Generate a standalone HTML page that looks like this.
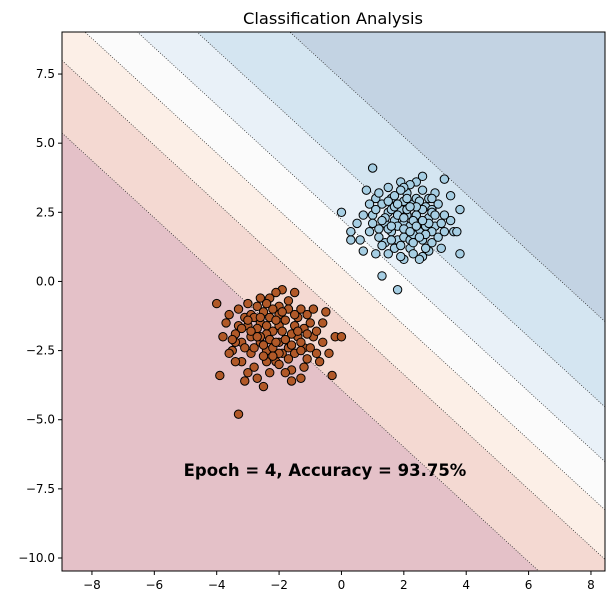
<!DOCTYPE html>
<html><head><meta charset="utf-8"><style>
body{margin:0;background:#fff;}
svg{display:block;font-family:"DejaVu Sans","Liberation Sans",sans-serif;}
</style></head><body>
<svg id="chart" width="614" height="605">
</svg>
<script>
const levels = [-3.78, -1.25, 0.48, 2.16, 4.07, 7.05];
const bandColors = ["#e4c1c8","#f4d9d2","#fcefe7","#fbfbfb","#e9f1f8","#d4e5f1","#c3d3e3"];
const slopeK = 0.965;
const xTicks = [-8,-6,-4,-2,0,2,4,6,8];
const yTicks = [7.5,5.0,2.5,0.0,-2.5,-5.0,-7.5,-10.0];
const blueX = [2.0,1.5,2.5,1.8,2.3,1.2,2.8,2.1,1.6,2.6,3.0,1.0,1.4,2.2,2.9,3.3,0.8,1.1,1.9,2.4,2.7,1.7,2.4,2.0,1.3,3.1,3.5,0.6,0.9,1.5,2.0,2.6,3.2,3.6,2.8,2.2,1.9,1.6,2.5,2.0,1.0,1.3,1.8,3.8,0.0,3.3,3.8,3.7,0.3,0.3,0.7,1.1,0.5,0.9,1.2,1.5,2.2,2.6,3.0,2.9,3.3,2.6,2.3,1.7,1.4,2.1,2.7,1.8,2.2,2.4,1.6,2.0,3.5,0.7,1.9,2.8,2.5,3.1,1.2,1.0,2.9,2.0,1.5,2.3,1.7,2.6,1.3,
  1.8,2.3,2.1,2.7,1.4,1.6,2.5,2.9,2.2,1.9,2.4,1.1,3.0,2.7,1.7,2.0,2.3,1.5,2.8,2.1,1.3,2.6,1.9,3.2,2.4,1.6,2.2,2.9,1.8,2.5];
const blueY = [2.1,2.5,1.8,1.5,2.8,1.9,2.3,3.2,3.0,3.3,2.0,2.4,1.4,1.2,1.4,1.8,3.3,3.0,3.6,3.6,2.7,2.2,2.4,1.6,2.8,2.8,2.2,1.5,1.8,1.0,0.8,0.9,1.2,1.8,3.0,2.0,2.6,1.8,2.1,2.9,4.1,0.2,-0.3,1.0,2.5,3.7,2.6,1.8,1.5,1.8,1.1,1.0,2.1,2.8,3.2,3.4,3.5,3.8,3.2,2.6,2.4,1.5,1.0,1.2,2.1,2.4,2.0,2.0,1.5,3.0,2.6,3.4,3.1,2.4,0.9,1.1,0.8,1.6,1.6,2.1,1.8,1.9,2.9,2.2,3.1,2.6,1.3,
  2.4,1.7,2.6,1.2,2.3,1.5,2.9,2.5,1.8,3.3,2.0,2.6,2.4,1.7,2.7,2.3,1.4,1.9,2.1,3.0,2.2,2.2,1.3,2.1,2.7,2.0,2.7,3.0,2.8,1.6];
const brownX = [-2.2,-2.6,-1.8,-2.0,-2.9,-1.5,-2.4,-3.1,-1.2,-2.7,-1.7,-3.4,-3.5,-1.0,-0.8,-2.1,-2.8,-1.6,-1.3,-2.3,-1.9,-2.1,-1.5,-2.5,-3.0,-3.3,-3.7,-3.8,-3.6,-3.2,-2.6,-2.0,-1.4,-0.9,-0.6,-0.5,-0.7,-1.1,-1.5,-1.9,-2.4,-2.9,-3.2,-3.0,-2.3,-1.8,-1.3,-0.4,-0.2,0.0,-4.0,-3.3,-3.9,-0.3,-2.5,-3.1,-1.6,-1.2,-2.7,-2.0,-1.8,-2.4,-2.7,-1.6,-1.2,-2.8,-2.2,-1.7,-1.3,-3.3,-3.4,-2.9,-2.3,-1.7,-1.1,-2.0,-2.6,-3.0,-1.4,-0.9,-0.6,-2.5,-3.4,-2.0,-1.0,-3.6,-2.2,-1.9,-2.6,
  -2.3,-1.6,-2.8,-2.1,-1.4,-2.5,-3.1,-1.9,-2.6,-1.1,-2.4,-3.2,-1.7,-2.0,-2.9,-1.5,-2.2,-3.5,-1.8,-2.7,-0.8,-2.4,-3.0,-1.3,-2.1];
const brownY = [-1.8,-1.5,-2.1,-1.2,-2.0,-1.6,-2.5,-1.3,-2.4,-0.9,-0.7,-1.9,-2.5,-1.5,-2.6,-2.9,-3.1,-3.2,-1.0,-0.6,-0.3,-0.4,-0.4,-1.1,-1.6,-1.0,-1.5,-2.0,-2.6,-2.2,-2.2,-2.2,-2.0,-2.0,-1.5,-1.1,-2.9,-2.8,-2.6,-2.6,-2.9,-2.6,-2.9,-3.3,-3.3,-3.3,-3.5,-2.6,-2.0,-2.0,-0.8,-4.8,-3.4,-3.4,-3.8,-3.6,-3.6,-3.1,-3.5,-1.6,-1.4,-1.9,-1.7,-1.9,-1.7,-2.4,-2.4,-2.4,-2.2,-1.6,-2.2,-1.2,-1.3,-1.0,-1.2,-0.9,-0.6,-0.8,-1.3,-1.0,-2.2,-2.7,-2.9,-3.0,-2.4,-1.2,-1.0,-1.8,-2.0,
  -2.1,-2.3,-1.3,-1.4,-1.8,-2.3,-2.4,-1.1,-1.3,-1.9,-1.6,-1.7,-2.8,-2.6,-1.8,-1.2,-2.7,-2.1,-2.1,-2.0,-1.8,-0.8,-1.4,-2.5,-2.2];

const NS="http://www.w3.org/2000/svg";
const svg=document.getElementById('chart');
const L=62,R=605,T=32,B=571;
const xmin=-8.96,xmax=8.45,ymin=-10.47,ymax=9.02;
const xs=v=>L+(v-xmin)/(xmax-xmin)*(R-L);
const ys=v=>B-(v-ymin)/(ymax-ymin)*(B-T);
function mk(tag,attrs,parent){const e=document.createElementNS(NS,tag);for(const k in attrs)e.setAttribute(k,attrs[k]);(parent||svg).appendChild(e);return e;}
const f=(p)=>p[0]+slopeK*p[1];
function clip(poly,level,keepAbove){
  const out=[];const inside=p=>keepAbove?f(p)>=level:f(p)<=level;
  for(let i=0;i<poly.length;i++){const a=poly[i],b=poly[(i+1)%poly.length];
    const ia=inside(a),ib=inside(b);
    if(ia)out.push(a);
    if(ia!==ib){const t=(level-f(a))/(f(b)-f(a));out.push([a[0]+t*(b[0]-a[0]),a[1]+t*(b[1]-a[1])]);}
  }return out;}
const rect=[[xmin,ymin],[xmax,ymin],[xmax,ymax],[xmin,ymax]];
const bands=mk('g',{});


for(let i=0;i<=levels.length;i++){
  let poly=rect.slice();
  if(i>0)poly=clip(poly,levels[i-1],true);
  if(i<levels.length)poly=clip(poly,levels[i],false);
  if(poly.length<3)continue;
  const p=mk('polygon',{points:poly.map(q=>xs(q[0])+','+ys(q[1])).join(' '),fill:bandColors[i]},bands);
  
  
}
const lines=mk('g',{});


levels.forEach(lv=>{
  const seg=[];
  [[xmin,null],[xmax,null],[null,ymin],[null,ymax]].forEach(e=>{
    let x,y;
    if(e[0]!==null){x=e[0];y=(lv-x)/slopeK;if(y<ymin||y>ymax)return;}
    else{y=e[1];x=lv-slopeK*y;if(x<xmin||x>xmax)return;}
    seg.push([x,y]);
  });
  if(seg.length<2)return;
  const ln=mk('line',{x1:xs(seg[0][0]),y1:ys(seg[0][1]),x2:xs(seg[1][0]),y2:ys(seg[1][1]),stroke:'#222','stroke-width':0.7,'stroke-dasharray':'1,1.6'},lines);
  
  
});
function scatter(X,Y,color,name){
  const g=mk('g',{});
  
  
  X.forEach((x,i)=>{const c=mk('circle',{cx:xs(x),cy:ys(Y[i]),r:4.2,fill:color,stroke:'#000','stroke-width':1},g);
    
    });
}
scatter(blueX,blueY,'#a6cee3','class-blue-points');
scatter(brownX,brownY,'#b15928','class-brown-points');
const frame=mk('rect',{x:L,y:T,width:R-L,height:B-T,fill:'none',stroke:'#000','stroke-width':1});


const fmt=v=>(v<0?'\u2212':'')+Math.abs(v);
xTicks.forEach(v=>{const x=xs(v);
  mk('line',{x1:x,y1:B,x2:x,y2:B+4,stroke:'#000'});
  const t=mk('text',{x:x,y:B+18,'text-anchor':'middle','font-size':12});t.textContent=fmt(v);
  
  });
yTicks.forEach(v=>{const y=ys(v);
  mk('line',{x1:L-4,y1:y,x2:L,y2:y,stroke:'#000'});
  const t=mk('text',{x:L-7,y:y+4,'text-anchor':'end','font-size':12});t.textContent=fmt(v)+(Number.isInteger(v)?'.0':'');
  
  });
const title=mk('text',{x:333,y:24,'text-anchor':'middle','font-size':16.3});title.textContent='Classification Analysis';


const ann=mk('text',{x:325,y:476,'text-anchor':'middle','font-size':16.5,'font-weight':'bold'});ann.textContent='Epoch = 4, Accuracy = 93.75%';


</script>
</body></html>
